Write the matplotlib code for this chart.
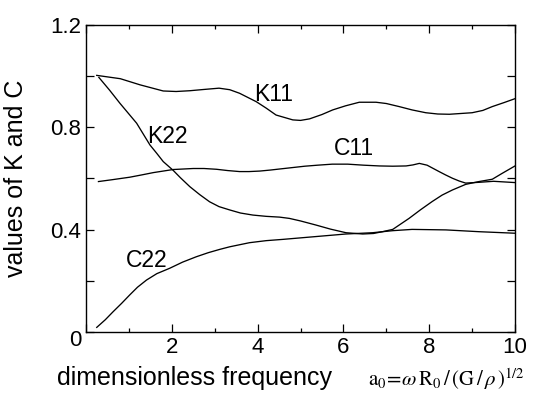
"""Dynamic stiffness (K) and damping (C) coefficients vs dimensionless frequency."""

import matplotlib
matplotlib.use("Agg")
import matplotlib.pyplot as plt
from matplotlib.ticker import MultipleLocator, FuncFormatter

plt.rcParams.update({
    "font.family":      ["Liberation Sans", "DejaVu Sans"],
    "mathtext.fontset": "stix",
    "axes.linewidth":   1.0,
    "xtick.direction":  "in",
    "ytick.direction":  "in",
    "xtick.top":        True,
    "ytick.right":      True,
})

# ── data ────────────────────────────────────────────────────────────────
k11_x = [0.25, 0.8, 1.26, 1.8, 2.1, 2.42, 2.75, 3.1, 3.35, 3.58, 3.97, 4.2,
         4.43, 4.82, 5.0, 5.21, 5.5, 5.75, 6.05, 6.37, 6.76, 7.0, 7.3, 7.6,
         7.92, 8.2, 8.47, 9.0, 9.25, 9.47, 9.75, 10.0]
k11_y = [1.003, 0.99, 0.966, 0.942, 0.94, 0.943, 0.948, 0.953, 0.947, 0.933,
         0.90, 0.875, 0.848, 0.829, 0.827, 0.833, 0.85, 0.868, 0.884, 0.898,
         0.898, 0.893, 0.881, 0.868, 0.857, 0.852, 0.851, 0.857, 0.866,
         0.881, 0.897, 0.912]

k22_x = [0.3, 0.55, 0.79, 1.0, 1.18, 1.49, 1.65, 1.80, 2.03, 2.2, 2.42, 2.65,
         2.88, 3.1, 3.35, 3.6, 3.89, 4.2, 4.51, 4.74, 5.0, 5.36, 5.7, 6.06,
         6.45, 6.7, 6.91, 7.15, 7.53, 7.8, 8.07, 8.3, 8.54, 8.85, 9.16, 9.47,
         9.7, 10.0]
k22_y = [0.995, 0.945, 0.894, 0.852, 0.816, 0.731, 0.698, 0.666, 0.632, 0.603,
         0.568, 0.537, 0.509, 0.49, 0.477, 0.465, 0.457, 0.452, 0.449, 0.444,
         0.434, 0.418, 0.402, 0.388, 0.383, 0.385, 0.392, 0.401, 0.444, 0.478,
         0.51, 0.535, 0.555, 0.577, 0.588, 0.597, 0.62, 0.649]

c11_x = [0.29, 0.6, 1.02, 1.3, 1.57, 2.03, 2.5, 2.75, 3.04, 3.3, 3.58, 3.8,
         4.05, 4.3, 4.51, 5.1, 5.4, 5.74, 6.1, 6.47, 6.84, 7.15, 7.46, 7.62,
         7.77, 7.95, 8.23, 8.38, 8.54, 8.7, 8.85, 9.16, 9.5, 10.0]
c11_y = [0.588, 0.595, 0.605, 0.614, 0.623, 0.635, 0.639, 0.639, 0.636, 0.631,
         0.627, 0.627, 0.629, 0.633, 0.637, 0.648, 0.652, 0.656, 0.656, 0.652,
         0.649, 0.648, 0.649, 0.653, 0.659, 0.652, 0.627, 0.614, 0.601, 0.59,
         0.582, 0.585, 0.589, 0.584]

c22_x = [0.25, 0.45, 0.63, 0.83, 1.02, 1.2, 1.41, 1.65, 1.95, 2.25, 2.57,
         2.85, 3.12, 3.35, 3.81, 4.2, 4.59, 5.36, 6.06, 6.68, 7.15, 7.6, 8.39,
         9.16, 10.0]
c22_y = [0.018, 0.048, 0.079, 0.112, 0.145, 0.175, 0.203, 0.228, 0.249, 0.273,
         0.294, 0.31, 0.323, 0.333, 0.349, 0.357, 0.362, 0.373, 0.383, 0.388,
         0.396, 0.401, 0.399, 0.392, 0.386]

curve_labels = ["K11", "K22", "C11", "C22"]
label_pos = [(3.92, 0.93), (1.42, 0.763), (5.77, 0.717), (0.94, 0.28)]


def main():
    fig = plt.figure(figsize=(5.39, 3.94), dpi=100)
    ax = fig.add_axes([0.1596, 0.1574, 0.7959, 0.7792])

    for xs, ys in [(k11_x, k11_y), (k22_x, k22_y), (c11_x, c11_y), (c22_x, c22_y)]:
        ax.plot(xs, ys, color="black", lw=0.95)

    for name, (lx, ly) in zip(curve_labels, label_pos):
        ax.text(lx, ly, name, fontsize=16.5, ha="left", va="center")

    ax.set_xlim(0, 10)
    ax.set_ylim(0, 1.2)
    ax.xaxis.set_major_locator(MultipleLocator(2))
    ax.xaxis.set_minor_locator(MultipleLocator(1))
    ax.yaxis.set_major_locator(MultipleLocator(0.2))

    ax.xaxis.set_major_formatter(FuncFormatter(lambda v, p: "" if v == 0 else f"{v:g}"))

    def yfmt(v, p):
        k = round(v / 0.2)
        if k == 0 or k % 2:
            return ""
        return f"{v:.1f}"
    ax.yaxis.set_major_formatter(FuncFormatter(yfmt))

    ax.tick_params(which="major", length=6, width=0.9, labelsize=16, pad=3.5)
    ax.tick_params(which="minor", length=3, width=0.9)

    # shared origin label
    ax.text(-0.245, -0.033, "0", fontsize=16, ha="center", va="center",
            clip_on=False)

    fig.text(0.03, 0.548, "values of K and C", rotation=90, fontsize=18,
             ha="center", va="center")
    fig.text(57 / 539, 9 / 394, "dimensionless frequency", fontsize=18,
             ha="left", va="baseline")
    fig.text(368 / 539, 8 / 394,
             r"$\mathrm{a_0}\!\mathrm{=}\!\omega\,\mathrm{R_0}\,/\,(\mathrm{G}\,/\,\rho\,)^{1/2}$",
             fontsize=15, ha="left", va="baseline")

    fig.savefig("out.png", dpi=100)


if __name__ == "__main__":
    main()
